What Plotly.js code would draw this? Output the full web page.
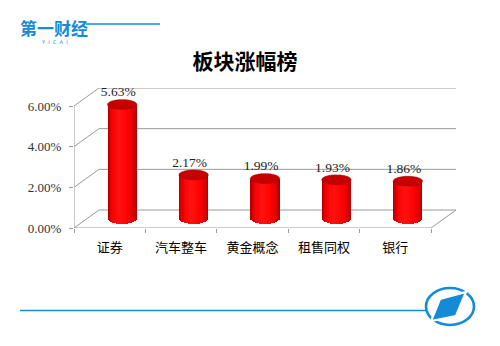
<!DOCTYPE html>
<html><head><meta charset="utf-8">
<script src="https://cdn.plot.ly/plotly-3.0.1.min.js"></script>
<style>html,body{margin:0;padding:0;background:#fff}#chart{width:500px;height:346px}</style>
</head><body><div id="chart"></div>
<script>
// ---- data ----
const categories = ['证券', '汽车整车', '黄金概念', '租售同权', '银行'];
const values = [5.63, 2.17, 1.99, 1.93, 1.86];
const yTickVals = [0, 2, 4, 6];
const yTickText = ['0.00%', '2.00%', '4.00%', '6.00%'];
const dataLabels = values.map(v => v.toFixed(2) + '%');

// ---- 3D geometry (data units) ----
const DX = 0.35, DY = 0.885;   // depth offset of back wall
const RX = 0.205, RY = 0.24;   // cylinder radii
const N = 24;                   // shading strips (even)
const L = 74, R = 44, T = 88, B = 118, W = 500, H = 346;
const pw = W - L - R, ph = H - T - B;
const px = x => (x - L) / pw, py = y => (H - B - y) / ph;

const idx = categories.map((c, i) => i);
const nCat = categories.length;

const stops = [[-1, [160, 0, 0]], [-0.85, [218, 0, 0]], [-0.6, [250, 4, 4]], [-0.2, [255, 18, 18]],
               [0.3, [255, 4, 4]], [0.62, [238, 0, 0]], [0.88, [205, 0, 0]], [1, [160, 0, 0]]];
function colorAt(t) {
  for (let k = 0; k < stops.length - 1; k++) {
    const [a, ca] = stops[k], [b, cb] = stops[k + 1];
    if (t >= a && t <= b) {
      const f = (t - a) / (b - a);
      const c = ca.map((v, j) => Math.round(v + (cb[j] - v) * f));
      return `rgb(${c[0]},${c[1]},${c[2]})`;
    }
  }
  return 'rgb(160,0,0)';
}

const traces = [];
const w = 2 * RX / N;
const half = N / 2;
// order: left half outer->center, then right half outer->center (inner strips drawn on top)
const order = [];
for (let j = 0; j < half; j++) order.push(j);
for (let j = N - 1; j >= half; j--) order.push(j);
order.forEach(j => {
  const tm = -1 + (j + 0.5) * 2 / N;
  const drop = RY * Math.sqrt(Math.max(0, 1 - tm * tm));
  const col = colorAt(tm);
  let off, wid;
  if (j < half) { off = -RX + j * w; wid = RX - j * w; }
  else { off = 0; wid = (j + 1) * w - RX; }
  traces.push({
    type: 'bar', x: idx, y: values.map(v => v + drop), base: DY / 2 - drop,
    offset: DX / 2 + off, width: wid,
    marker: {color: col, line: {width: 0}},
    hoverinfo: 'skip', showlegend: false
  });
});
traces.push({
  type: 'scatter', mode: 'text', x: idx.map(i => i + DX / 2 - 0.055), y: values.map(v => v + DY / 2 + RY),
  text: dataLabels, textposition: 'top center',
  textfont: {family: 'Liberation Serif, serif', size: 13.5, color: '#222'},
  hoverinfo: 'skip', showlegend: false
});

// ---- shapes ----
const shapes = [];
const gc = '#9a9a9a';
const xL = -0.5, xR = nCat - 0.5;
yTickVals.forEach(v => {
  shapes.push({type: 'line', xref: 'x', yref: 'y', x0: xL, y0: v, x1: xL + DX, y1: v + DY, line: {color: gc, width: 1}, layer: 'below'});
  shapes.push({type: 'line', xref: 'x', yref: 'y', x0: xL + DX, y0: v + DY, x1: xR + DX, y1: v + DY, line: {color: gc, width: 1}, layer: 'below'});
});
shapes.push({type: 'line', xref: 'x', yref: 'y', x0: xL, y0: 0, x1: xL, y1: yTickVals[yTickVals.length - 1], line: {color: gc, width: 1}, layer: 'below'});
shapes.push({type: 'line', xref: 'x', yref: 'y', x0: xL, y0: 0, x1: xR, y1: 0, line: {color: gc, width: 1}, layer: 'below'});
shapes.push({type: 'line', xref: 'x', yref: 'y', x0: xR, y0: 0, x1: xR + DX, y1: DY, line: {color: gc, width: 1}, layer: 'below'});

// top ellipses of cylinders
values.forEach((v, i) => {
  const cx = i + DX / 2, cy = v + DY / 2;
  let p = '';
  for (let k = 0; k <= 48; k++) {
    const a = k / 48 * 2 * Math.PI;
    p += (k ? ' L ' : 'M ') + (cx + RX * Math.cos(a)).toFixed(4) + ',' + (cy + RY * Math.sin(a)).toFixed(4);
  }
  shapes.push({type: 'path', xref: 'x', yref: 'y', path: p + ' Z', fillcolor: '#c60000', line: {color: '#b00000', width: 0.6}});
});

// decorations (logo / footer)
const blue = '#138bd6';
shapes.push({type: 'line', xref: 'paper', yref: 'paper', x0: px(86), y0: py(24), x1: px(160), y1: py(24), line: {color: blue, width: 1.6}});
shapes.push({type: 'line', xref: 'paper', yref: 'paper', x0: px(20), y0: py(310.5), x1: px(426), y1: py(310.5), line: {color: blue, width: 1.6}});
shapes.push({type: 'circle', xref: 'paper', yref: 'paper', x0: px(426), x1: px(474), y0: py(288), y1: py(325), line: {color: blue, width: 2.6}});
const dia = [[440, 299], [466, 292], [456, 316], [431, 321]];
shapes.push({type: 'path', xref: 'paper', yref: 'paper',
  path: 'M ' + dia.map(p => px(p[0]).toFixed(4) + ',' + py(p[1]).toFixed(4)).join(' L ') + ' Z',
  fillcolor: blue, line: {color: '#ffffff', width: 2.2}});

const annotations = [
  {xref: 'paper', yref: 'paper', x: px(18), y: py(28), xanchor: 'left', yanchor: 'middle', showarrow: false,
   text: '<b>第一财经</b>', font: {family: 'Noto Sans CJK SC', size: 17, color: blue}},
  {xref: 'paper', yref: 'paper', x: px(54), y: py(42), xanchor: 'center', yanchor: 'middle', showarrow: false,
   text: 'Y  I  C  A  I', font: {family: 'DejaVu Sans', size: 5, color: blue}}
];

const layout = {
  width: W, height: H, margin: {l: L, r: R, t: T, b: B},
  paper_bgcolor: '#fff', plot_bgcolor: 'rgba(0,0,0,0)',
  barmode: 'overlay', bargap: 0, showlegend: false,
  title: {text: '板块涨幅榜', x: 0.49, xref: 'container', xanchor: 'center', y: 1 - 62 / H, yref: 'container', yanchor: 'middle',
          font: {family: 'Noto Sans CJK SC', size: 21, color: '#000', weight: 'bold'}},
  xaxis: {type: 'linear', range: [xL, xR + DX], tickvals: idx, ticktext: categories, ticks: '',
          showgrid: false, zeroline: false, showline: false, fixedrange: true, ticklabelstandoff: 10,
          tickfont: {family: 'Noto Sans CJK SC', size: 13, color: '#000'},
          minor: {tickvals: idx.map(i => i - 0.5).concat([xR]), ticks: 'outside', ticklen: 4, tickcolor: gc, tickwidth: 1, showgrid: false}},
  yaxis: {range: [0, yTickVals[yTickVals.length - 1] + DY], tickvals: yTickVals, ticktext: yTickText,
          ticks: 'outside', ticklen: 4, tickcolor: gc, showgrid: false, zeroline: false, showline: false,
          fixedrange: true, ticklabelstandoff: 5,
          tickfont: {family: 'Liberation Serif, serif', size: 13, color: '#333'}},
  shapes: shapes, annotations: annotations
};

Plotly.newPlot('chart', traces, layout, {displayModeBar: false, staticPlot: true});
</script></body></html>
